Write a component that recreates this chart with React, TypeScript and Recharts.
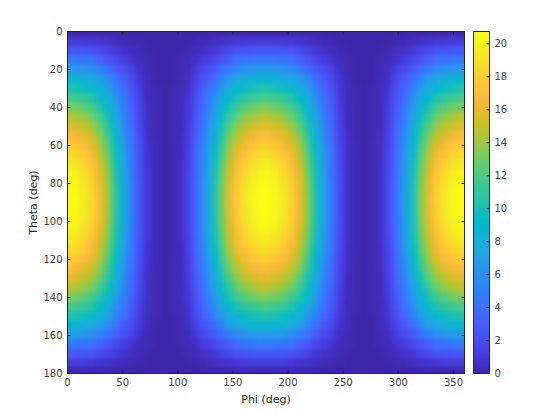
import { ScatterChart, Scatter, XAxis, YAxis, BarChart, Bar } from 'recharts';

const phiTicks = [0, 50, 100, 150, 200, 250, 300, 350];
const thetaTicks = [0, 20, 40, 60, 80, 100, 120, 140, 160, 180];
const barTicks = [0, 2, 4, 6, 8, 10, 12, 14, 16, 18, 20];
const MAX_VALUE = 20.75;

// one row per theta, phi 0..90 in 5 deg steps
const theta00 = [0, 0, 0, 0, 0, 0, 0, 0, 0, 0, 0, 0, 0, 0, 0, 0, 0, 0, 0];
const theta05 = [1.0, 1.0, 1.0, 1.0, 0.9, 0.9, 0.8, 0.7, 0.6, 0.4, 0.3, 0.2, 0.2, 0.1, 0.1, 0, 0, 0, 0];
const theta10 = [2.7, 2.7, 2.6, 2.5, 2.5, 2.3, 1.9, 1.6, 1.3, 1.0, 0.8, 0.6, 0.5, 0.3, 0.2, 0.1, 0, 0, 0];
const theta15 = [4.7, 4.6, 4.5, 4.4, 4.3, 4.0, 3.3, 2.8, 2.3, 1.8, 1.3, 1.1, 0.8, 0.5, 0.3, 0.2, 0.1, 0, 0];
const theta20 = [6.7, 6.6, 6.5, 6.3, 6.0, 5.7, 5.0, 4.4, 3.7, 2.9, 2.2, 1.8, 1.3, 0.8, 0.4, 0.2, 0.1, 0, 0];
const theta25 = [8.7, 8.7, 8.5, 8.2, 7.9, 7.6, 7.0, 6.3, 5.2, 4.1, 3.1, 2.5, 1.8, 1.1, 0.6, 0.3, 0.1, 0, 0];
const theta30 = [10.4, 10.3, 10.1, 9.8, 9.5, 9.0, 8.3, 7.5, 6.5, 5.3, 4.2, 3.2, 2.3, 1.4, 0.7, 0.4, 0.2, 0.1, 0];
const theta35 = [11.9, 11.8, 11.6, 11.3, 10.8, 10.3, 9.5, 8.6, 7.5, 6.1, 4.8, 3.7, 2.6, 1.6, 0.8, 0.4, 0.2, 0.1, 0];
const theta40 = [13.4, 13.2, 13.0, 12.6, 12.2, 11.6, 10.7, 9.6, 8.4, 6.8, 5.4, 4.1, 3.0, 1.8, 0.9, 0.5, 0.2, 0.1, 0];
const theta45 = [14.7, 14.6, 14.3, 13.9, 13.4, 12.7, 11.7, 10.6, 9.2, 7.5, 5.9, 4.5, 3.3, 2.0, 1.0, 0.5, 0.2, 0.1, 0];
const theta50 = [15.9, 15.8, 15.5, 15.0, 14.5, 13.8, 12.7, 11.5, 10.0, 8.1, 6.4, 4.9, 3.5, 2.1, 1.1, 0.5, 0.2, 0.1, 0];
const theta55 = [17.0, 16.9, 16.5, 16.1, 15.5, 14.7, 13.6, 12.3, 10.6, 8.7, 6.9, 5.2, 3.8, 2.3, 1.1, 0.6, 0.2, 0.1, 0];
const theta60 = [18.0, 17.8, 17.5, 17.0, 16.4, 15.6, 14.4, 13.0, 11.3, 9.2, 7.3, 5.5, 4.0, 2.4, 1.2, 0.6, 0.3, 0.1, 0];
const theta65 = [18.8, 18.7, 18.3, 17.8, 17.1, 16.3, 15.0, 13.6, 11.8, 9.6, 7.6, 5.8, 4.2, 2.5, 1.3, 0.6, 0.3, 0.1, 0];
const theta70 = [19.6, 19.4, 19.0, 18.4, 17.8, 16.9, 15.6, 14.1, 12.2, 10.0, 7.9, 6.0, 4.3, 2.6, 1.3, 0.7, 0.3, 0.1, 0];
const theta75 = [20.1, 19.9, 19.5, 18.9, 18.3, 17.4, 16.0, 14.5, 12.6, 10.2, 8.1, 6.2, 4.4, 2.7, 1.4, 0.7, 0.3, 0.1, 0];
const theta80 = [20.5, 20.3, 19.9, 19.3, 18.6, 17.7, 16.4, 14.8, 12.8, 10.4, 8.3, 6.3, 4.5, 2.8, 1.4, 0.7, 0.3, 0.1, 0];
const theta85 = [20.7, 20.5, 20.1, 19.5, 18.8, 17.9, 16.5, 14.9, 12.9, 10.6, 8.4, 6.4, 4.6, 2.8, 1.4, 0.7, 0.3, 0.1, 0];
const theta90 = [20.8, 20.6, 20.2, 19.6, 18.9, 18.0, 16.6, 15.0, 13.0, 10.6, 8.4, 6.4, 4.6, 2.8, 1.4, 0.7, 0.3, 0.1, 0];

const upperRows = [theta00, theta05, theta10, theta15, theta20, theta25, theta30, theta35, theta40, theta45,
  theta50, theta55, theta60, theta65, theta70, theta75, theta80, theta85, theta90];

// parula, every 3rd level
const parula = [
  [0.2422, 0.1504, 0.6603], [0.2647, 0.1978, 0.7952], [0.2783, 0.2559, 0.8991], [0.2813, 0.3006, 0.9414],
  [0.2795, 0.3447, 0.9717], [0.2699, 0.3892, 0.9906], [0.2440, 0.4358, 0.9988], [0.1963, 0.4847, 0.9892],
  [0.1786, 0.5289, 0.9682], [0.1687, 0.5703, 0.9359], [0.1460, 0.6091, 0.9079], [0.1248, 0.6459, 0.8883],
  [0.0952, 0.6798, 0.8598], [0.0297, 0.7082, 0.8163], [0.0067, 0.7312, 0.7660], [0.0964, 0.7500, 0.7120],
  [0.1717, 0.7670, 0.6554], [0.2161, 0.7843, 0.5923], [0.2906, 0.7973, 0.5188], [0.3909, 0.8029, 0.4354],
  [0.5044, 0.7993, 0.3480], [0.6174, 0.7876, 0.2612], [0.7242, 0.7698, 0.1910], [0.8203, 0.7498, 0.1535],
  [0.9035, 0.7330, 0.1774], [0.9728, 0.7298, 0.2394], [0.9970, 0.7659, 0.2199], [0.9892, 0.8136, 0.1885],
  [0.9676, 0.8639, 0.1643], [0.9597, 0.9135, 0.1423], [0.9691, 0.9606, 0.1064], [0.9769, 0.9839, 0.0805],
];

const colorAt = (v: number) => {
  const t = Math.min(Math.max(v / MAX_VALUE, 0), 1) * (parula.length - 1);
  const i = Math.min(Math.floor(t), parula.length - 2);
  const f = t - i;
  const c = parula[i].map((a, k) => Math.round((a + (parula[i + 1][k] - a) * f) * 255));
  return `rgb(${c[0]},${c[1]},${c[2]})`;
};

const cells: { phi: number; theta: number; value: number }[] = [];
for (let r = 0; r <= 36; r++) {
  const row = upperRows[r <= 18 ? r : 36 - r];
  for (let c = 0; c <= 72; c++) {
    const q = c % 36;
    cells.push({ phi: c * 5, theta: r * 5, value: row[q <= 18 ? q : 36 - q] });
  }
}

const PLOT = { left: 67, top: 32, right: 464, bottom: 373 };
const BAR = { left: 473, right: 489 };
const CELL_W = (PLOT.right - PLOT.left) / 72;
const CELL_H = (PLOT.bottom - PLOT.top) / 36;
const BLEED = 20; // edge cells run under the clip so the blur keeps its colour at the frame

const CellShape = (props: any) => {
  const { cx, cy, payload } = props;
  const l = payload.phi === 0 ? BLEED : CELL_W / 2 + 0.5;
  const r = payload.phi === 360 ? BLEED : CELL_W / 2 + 0.5;
  const t = payload.theta === 0 ? BLEED : CELL_H / 2 + 0.5;
  const b = payload.theta === 180 ? BLEED : CELL_H / 2 + 0.5;
  return <rect x={cx - l} y={cy - t} width={l + r} height={t + b} fill={colorAt(payload.value)} />;
};

const INK = '#262626';
const tickFont = { fontFamily: 'DejaVu Sans', fontSize: 10, fill: '#404040' };
const labelFont = { fontFamily: 'DejaVu Sans', fontSize: 11, fill: INK };
const noLabel = () => <g />;
const layer = { position: 'absolute', left: 0, top: 0 } as const;
const anchor = [{ x: 0, y: 0 }]; // axes only draw ticks when a series is bound to them

export default function App() {
  return (
    <div style={{ position: 'absolute', left: 0, top: 0, width: 560, height: 420, background: '#fff' }}>
      <style>{`.heat .recharts-scatter { filter: url(#soften); clip-path: url(#plotClip); }`}</style>
      {/* heat cells */}
      <div className="heat" style={layer}>
        <ScatterChart width={560} height={420} margin={{ top: PLOT.top, right: 560 - PLOT.right, bottom: 420 - PLOT.bottom, left: PLOT.left }}>
          <defs>
            <filter id="soften" filterUnits="userSpaceOnUse" x={0} y={0} width={560} height={420} colorInterpolationFilters="sRGB">
              <feGaussianBlur stdDeviation={2} />
            </filter>
            <clipPath id="plotClip">
              <rect x={PLOT.left} y={PLOT.top} width={PLOT.right - PLOT.left} height={PLOT.bottom - PLOT.top} />
            </clipPath>
          </defs>
          <XAxis hide type="number" dataKey="phi" domain={[0, 360]} />
          <YAxis hide type="number" dataKey="theta" reversed domain={[0, 180]} />
          <Scatter data={cells} shape={CellShape} isAnimationActive={false} />
        </ScatterChart>
      </div>
      {/* colorbar */}
      <div style={layer}>
        <BarChart width={560} height={420} data={[{ name: 'scale', value: MAX_VALUE }]} barCategoryGap={0}
          margin={{ top: PLOT.top, right: 560 - BAR.right, bottom: 420 - PLOT.bottom, left: BAR.left }}>
          <defs>
            <linearGradient id="parulaBar" x1="0" y1="1" x2="0" y2="0">
              {parula.map((_, i) => (
                <stop key={i} offset={i / (parula.length - 1)} stopColor={colorAt((i / (parula.length - 1)) * MAX_VALUE)} />
              ))}
            </linearGradient>
          </defs>
          <XAxis hide dataKey="name" />
          <YAxis hide type="number" domain={[0, MAX_VALUE]} />
          <Bar dataKey="value" fill="url(#parulaBar)" isAnimationActive={false} />
        </BarChart>
      </div>
      {/* frames, ticks and labels go on top of the marks, half a pixel off so the lines stay crisp */}
      <div style={layer}>
        <ScatterChart width={560} height={420} margin={{ top: 30.5, right: 94.5, bottom: 16.5, left: 17.5 }}>
          <XAxis xAxisId="b" type="number" dataKey="x" domain={[0, 360]} ticks={phiTicks} height={30} stroke={INK}
            tickSize={-3} tickMargin={8} tick={tickFont} interval={0}
            label={{ value: 'Phi (deg)', position: 'bottom', offset: -8, style: labelFont }} />
          <XAxis xAxisId="t" orientation="top" type="number" dataKey="x" domain={[0, 360]} ticks={phiTicks} height={1} stroke={INK}
            tickSize={-3} tick={noLabel} interval={0} />
          <YAxis yAxisId="l" type="number" dataKey="y" reversed domain={[0, 180]} ticks={thetaTicks} width={50} stroke={INK}
            tickSize={-3} tickMargin={8} tick={tickFont} interval={0}
            label={{ value: 'Theta (deg)', angle: -90, position: 'insideLeft', offset: 16, style: { ...labelFont, textAnchor: 'middle' } }} />
          <YAxis yAxisId="r" orientation="right" type="number" dataKey="y" reversed domain={[0, 180]} ticks={thetaTicks} width={1} stroke={INK}
            tickSize={-3} tick={noLabel} interval={0} />
          <Scatter xAxisId="b" yAxisId="l" data={anchor} shape={noLabel} isAnimationActive={false} />
          <Scatter xAxisId="t" yAxisId="r" data={anchor} shape={noLabel} isAnimationActive={false} />
        </ScatterChart>
      </div>
      <div style={layer}>
        <ScatterChart width={560} height={420} margin={{ top: 30.5, right: 23.5, bottom: 45.5, left: 472.5 }}>
          <XAxis xAxisId="b" type="number" dataKey="x" domain={[0, 1]} ticks={[]} height={1} stroke={INK} />
          <XAxis xAxisId="t" orientation="top" type="number" dataKey="x" domain={[0, 1]} ticks={[]} height={1} stroke={INK} />
          <YAxis yAxisId="l" type="number" dataKey="y" domain={[0, MAX_VALUE]} ticks={[]} width={1} stroke={INK} />
          <YAxis yAxisId="r" orientation="right" type="number" dataKey="y" domain={[0, MAX_VALUE]} ticks={barTicks} width={47} stroke={INK}
            tickSize={-3} tickMargin={8} tick={tickFont} interval={0} />
          <Scatter xAxisId="b" yAxisId="l" data={anchor} shape={noLabel} isAnimationActive={false} />
          <Scatter xAxisId="t" yAxisId="r" data={anchor} shape={noLabel} isAnimationActive={false} />
        </ScatterChart>
      </div>
    </div>
  );
}
